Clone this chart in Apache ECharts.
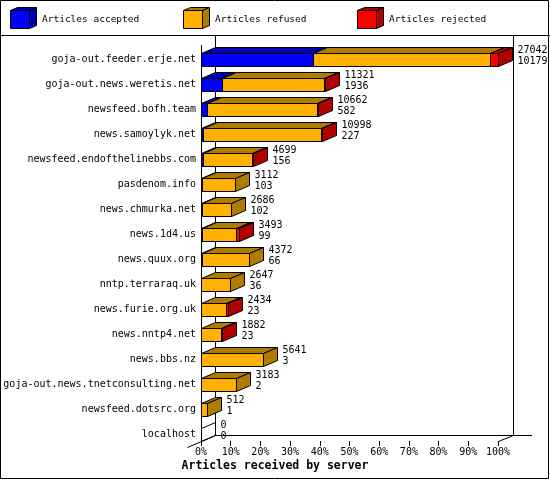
<!DOCTYPE html>
<html>
<head>
<meta charset="utf-8">
<title>Articles received by server</title>
<script src="https://cdn.jsdelivr.net/npm/echarts@6.0.0/dist/echarts.min.js"></script>
<style>
  html, body { margin: 0; padding: 0; background: #fff; }
  #main { width: 550px; height: 480px; }
</style>
</head>
<body>
<div id="main"></div>
<script>
// servers, top to bottom
var hosts = [
  'goja-out.feeder.erje.net', 'goja-out.news.weretis.net', 'newsfeed.bofh.team',
  'news.samoylyk.net', 'newsfeed.endofthelinebbs.com', 'pasdenom.info',
  'news.chmurka.net', 'news.1d4.us', 'news.quux.org', 'nntp.terraraq.uk',
  'news.furie.org.uk', 'news.nntp4.net', 'news.bbs.nz',
  'goja-out.news.tnetconsulting.net', 'newsfeed.dotsrc.org', 'localhost'
];
// articles offered (upper number) and accepted (lower number)
var offered  = [27042, 11321, 10662, 10998, 4699, 3112, 2686, 3493, 4372, 2647, 2434, 1882, 5641, 3183, 512, 0];
var accepted = [10179, 1936, 582, 227, 156, 103, 102, 99, 66, 36, 23, 23, 3, 2, 1, 0];
// rejected, estimated from the red part of each bar
var rejected = [750, 80, 60, 30, 40, 0, 0, 300, 0, 0, 120, 80, 0, 0, 0, 0];

var legendNames = ['Articles accepted', 'Articles refused', 'Articles rejected'];
var colFront = ['#0000ff', '#ffb000', '#ff0000'];
var colDark  = ['#0000b0', '#b07c00', '#b00000'];

var FONT = '"DejaVu Sans Mono", "Liberation Mono", monospace';
var DX = 14, DY = 6, H = 13;

var maxOffered = Math.max.apply(null, offered);
var data = hosts.map(function (h, i) {
  var refused = offered[i] - accepted[i] - rejected[i];
  return [i,
    accepted[i] / maxOffered * 100,
    refused / maxOffered * 100,
    rejected[i] / maxOffered * 100,
    offered[i], accepted[i]];
});

function renderItem(params, api) {
  var i = api.value(0);
  var segs = [api.value(1), api.value(2), api.value(3)];
  var base = api.coord([0, i]);
  var cy = base[1];
  var top = Math.round(cy - H / 2) + 0.5;
  var bot = top + H;
  var xs = [Math.round(base[0]) + 0.5];
  var cum = 0;
  for (var k = 0; k < 3; k++) {
    cum += segs[k];
    xs.push(Math.round(api.coord([cum, i])[0]) + 0.5);
  }
  var fronts = [], tops = [], last = -1;
  for (k = 0; k < 3; k++) {
    if (segs[k] <= 0) continue;
    last = k;
    var a = xs[k], b = xs[k + 1];
    if (b <= a) continue;
    fronts.push({
      type: 'rect',
      shape: { x: a, y: top, width: b - a, height: H },
      style: { fill: colFront[k], stroke: '#000', lineWidth: 1 }
    });
    tops.push({
      type: 'polygon',
      shape: { points: [[a, top], [b, top], [b + DX, top - DY], [a + DX, top - DY]] },
      style: { fill: colDark[k], stroke: '#000', lineWidth: 1 }
    });
  }
  var xe = xs[3];
  var side = {
    type: 'polygon',
    shape: { points: [[xe, top], [xe + DX, top - DY], [xe + DX, bot - DY], [xe, bot]] },
    style: { fill: last >= 0 ? colDark[last] : 'none', stroke: '#000', lineWidth: 1 }
  };
  var tx = xe + DX + 5;
  var texts = [
    { type: 'text', style: { text: String(api.value(4)), x: tx, y: cy - 9, fill: '#000', font: '10px ' + FONT, verticalAlign: 'middle' } },
    { type: 'text', style: { text: String(api.value(5)), x: tx, y: cy + 2, fill: '#000', font: '10px ' + FONT, verticalAlign: 'middle' } }
  ];
  return { type: 'group', children: fronts.concat(tops, [side], texts) };
}

// cube icons for the legend
function legendItem(x, k) {
  var l = x + 0.5, t = 10.5, w = 19, h = 18, dx = 7, dy = 3;
  return {
    type: 'group',
    children: [
      { type: 'polygon', shape: { points: [[l, t], [l + dx, t - dy], [l + w + dx, t - dy], [l + w, t]] },
        style: { fill: colDark[k], stroke: '#000', lineWidth: 1 } },
      { type: 'polygon', shape: { points: [[l + w, t], [l + w + dx, t - dy], [l + w + dx, t + h - dy], [l + w, t + h]] },
        style: { fill: colDark[k], stroke: '#000', lineWidth: 1 } },
      { type: 'rect', shape: { x: l, y: t, width: w, height: h },
        style: { fill: colFront[k], stroke: '#000', lineWidth: 1 } },
      { type: 'text', style: { text: legendNames[k], x: x + 32, y: 20, fill: '#000', font: '9.5px ' + FONT, verticalAlign: 'middle' } }
    ]
  };
}

var lineStyle = { stroke: '#000', lineWidth: 1 };
var graphics = [
  { type: 'rect', z: 0, shape: { x: 0.5, y: 0.5, width: 548, height: 478 }, style: { fill: 'none', stroke: '#000', lineWidth: 1 } },
  { type: 'line', z: 0, shape: { x1: 0, y1: 35.5, x2: 550, y2: 35.5 }, style: lineStyle },
  { type: 'line', z: 0, shape: { x1: 215.5, y1: 36, x2: 215.5, y2: 435.5 }, style: lineStyle },
  { type: 'line', z: 0, shape: { x1: 201.5, y1: 45, x2: 201.5, y2: 441.5 }, style: lineStyle },
  { type: 'line', z: 0, shape: { x1: 513.5, y1: 36, x2: 513.5, y2: 435.5 }, style: lineStyle },
  { type: 'line', z: 0, shape: { x1: 215.5, y1: 435.5, x2: 532, y2: 435.5 }, style: lineStyle },
  { type: 'line', z: 0, shape: { x1: 498.5, y1: 441.5, x2: 513.5, y2: 435.5 }, style: lineStyle },
  { type: 'line', z: 0, shape: { x1: 187.5, y1: 447.5, x2: 215.5, y2: 435.5 }, style: lineStyle },
  { type: 'text', z: 10, style: { text: 'Articles received by server', x: 275, y: 466, align: 'center', verticalAlign: 'middle',
      fill: '#000', font: 'bold 11.5px ' + FONT } },
  legendItem(10, 0), legendItem(183, 1), legendItem(357, 2)
];

var myChart = echarts.init(document.getElementById('main'), null, { renderer: 'canvas' });
var option = {
  backgroundColor: '#fff',
  animation: false,
  grid: { left: 201, right: 52, top: 46.5, bottom: 33.5 },
  xAxis: {
    type: 'value', min: 0, max: 100, interval: 10, offset: -5.5,
    axisLine: { show: false },
    axisTick: { show: true, length: 5, lineStyle: { color: '#000', width: 1 } },
    splitLine: { show: false },
    axisLabel: { formatter: '{value}%', color: '#000', fontFamily: FONT, fontSize: 10, margin: 6 }
  },
  yAxis: {
    type: 'category', data: hosts, inverse: true,
    axisLine: { show: false },
    axisTick: { show: false },
    splitLine: { show: false },
    axisLabel: { color: '#000', fontFamily: FONT, fontSize: 10, margin: 5 }
  },
  graphic: graphics,
  series: [{
    type: 'custom',
    z: 5,
    renderItem: renderItem,
    encode: { y: 0, x: [1, 2, 3] },
    data: data
  }]
};
myChart.setOption(option);
</script>
</body>
</html>
